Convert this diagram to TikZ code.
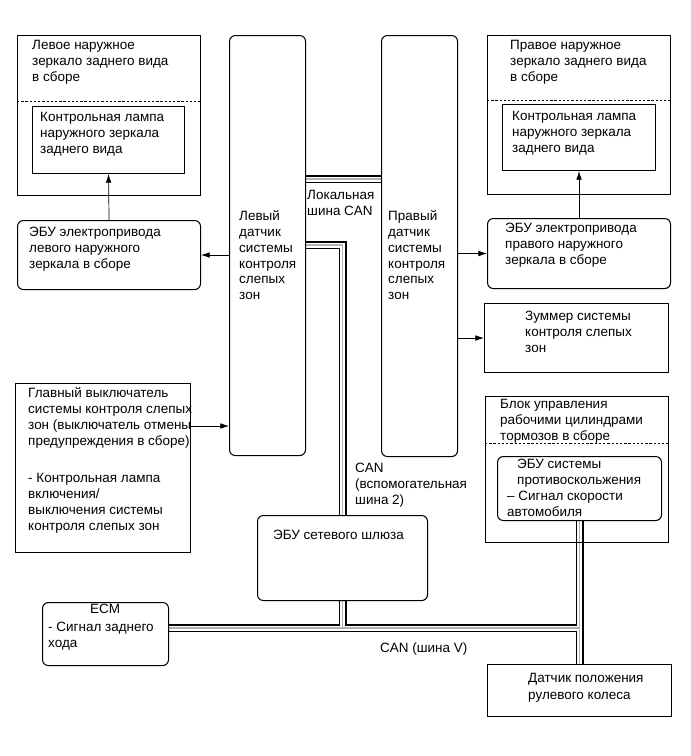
\documentclass[tikz,border=0pt]{standalone}
\usepackage{fontspec}
\setmainfont{Liberation Sans}
\usetikzlibrary{arrows.meta,backgrounds}
\newdimen\pxu \pxu=0.03cm

\begin{document}
\begin{tikzpicture}[
  x=0.03cm, y=-0.03cm,
  font=\fontsize{11.5}{13.6}\selectfont,
  box/.style={draw=black, line width=0.9pt, inner sep=0pt, anchor=north west},
  rbox/.style={box, rounded corners=5pt},
  sz/.style 2 args={minimum width=#1\pxu, minimum height=#2\pxu},
  txt/.style={anchor=north west, align=left, inner sep=0pt},
  arr/.style={-{Latex[length=2.6mm, width=1.7mm]}, line width=0.6pt},
  dsh/.style={line width=0.8pt, dash pattern=on 2pt off 1.6pt}
]
\useasboundingbox (0,0) rectangle (690,756);
% ----- blind spot sensors -----
\node[rbox, sz={76}{420}] (lsens) at (229,35) {};
\node[txt] (lsenst) at (239,210) {Левый\\датчик\\системы\\контроля\\слепых\\зон};
\node[rbox, sz={76}{421}] (rsens) at (381,35) {};
\node[txt] (rsenst) at (388,210) {Правый\\датчик\\системы\\контроля\\слепых\\зон};
% ----- left mirror -----
\node[box, sz={183}{160}] (lmir) at (17,35) {};
\node[txt] (lmirt) at (32,40) {Левое наружное\\зеркало заднего вида\\в сборе};
\draw[dsh] ([yshift=-66\pxu]lmir.north west) -- ([yshift=-66\pxu]lmir.north east);
\node[box, sz={152}{67}] (llamp) at (32,106) {};
\node[txt] (llampt) at (40,112) {Контрольная лампа\\наружного зеркала\\заднего вида};
\node[rbox, sz={183}{69}] (lecu) at (17,220) {};
\node[txt] (lecut) at (29,227) {ЭБУ электропривода\\левого наружного\\зеркала в сборе};
% ----- right mirror -----
\node[box, sz={183}{159}] (rmir) at (487,35) {};
\node[txt] (rmirt) at (510,40) {Правое наружное\\зеркало заднего вида\\в сборе};
\draw[dsh] ([yshift=-65\pxu]rmir.north west) -- ([yshift=-65\pxu]rmir.north east);
\node[box, sz={153}{66}] (rlamp) at (502,104) {};
\node[txt] (rlampt) at (512,111) {Контрольная лампа\\наружного зеркала\\заднего вида};
\node[rbox, sz={183}{70}] (recu) at (487,218) {};
\node[txt] (recut) at (505,223) {ЭБУ электропривода\\правого наружного\\зеркала в сборе};
% ----- buzzer, brake block -----
\node[box, sz={184}{69}] (buzz) at (484,303) {};
\node[txt] (buzzt) at (525,311) {Зуммер системы\\контроля слепых\\зон};
\node[box, sz={183}{146}] (brk) at (485,396) {};
\node[txt] (brkt) at (500,399) {Блок управления\\рабочими цилиндрами\\тормозов в сборе};
\draw[dsh] ([yshift=-47\pxu]brk.north west) -- ([yshift=-47\pxu]brk.north east);
\node[rbox, sz={164}{64}] (abs) at (497,456) {};
\node[txt] (abst) at (507,459) {\hspace{10\pxu}ЭБУ системы\\\hspace{10\pxu}противоскольжения\\– Сигнал скорости\\автомобиля};
% ----- main switch, gateway, ECM, steering -----
\node[box, sz={175}{169}] (msw) at (15,383) {};
\node[txt] (mswt) at (28,387) {Главный выключатель\\системы контроля слепых\\зон (выключатель отмены\\предупреждения в сборе)\\[22\pxu]- Контрольная лампа\\включения/\\выключения системы\\контроля слепых зон};
\node[rbox, sz={170}{85}] (gw) at (257,515) {};
\node[txt] (gwt) at (273,530) {ЭБУ сетевого шлюза};
\node[rbox, sz={126}{63}] (ecm) at (42,602) {};
\node[txt] (ecmt) at (48,604) {\hspace{42\pxu}ECM\\[2\pxu]- Сигнал заднего\\хода};
\node[box, sz={184}{52}] (steer) at (487,664) {};
\node[txt] (steert) at (528,673) {Датчик положения\\[1\pxu]рулевого колеса};
% ----- bus labels -----
\node[txt] (lcan) at (307,190) {Локальная\\шина CAN};
\node[txt] (scan) at (355,463) {CAN\\(вспомогательная\\шина 2)};
\node[txt] (vcan) at (380,642) {CAN (шина V)};
% ----- signal arrows -----
\draw[arr] (lsens.west |- lecu.east) -- (lecu.east);
\draw[arr] (lecu.north) -- (llamp.south);
\draw[arr] (rsens.east |- recu.west) -- (recu.west);
\draw[arr] (recu.north) -- (rlamp.south);
\draw[arr] (rsens.east |- buzz.west) -- (buzz.west);
\draw[arr] (msw.east |- 0,426) -- (lsens.west |- 0,426);
% ----- CAN buses (black / white / gray) -----
\begin{scope}[on background layer]
\foreach \w/\c in {8/black, 5/white, 1.2/gray!60}{
  \draw[line width=\w\pxu, \c] (lsens.east |- 0,179) -- (rsens.west |- 0,179);
  \draw[line width=\w\pxu, \c] (lsens.east |- 0,245) -| (gw.north);
  \draw[line width=\w\pxu, \c] (gw.south) -- (gw.south |- 0,628);
  \draw[line width=\w\pxu, \c] (ecm.east |- 0,628) -| (steer.north);
  \draw[line width=\w\pxu, \c] (abs.south) -- (abs.south |- 0,628);
}
\end{scope}
\end{tikzpicture}
\end{document}
